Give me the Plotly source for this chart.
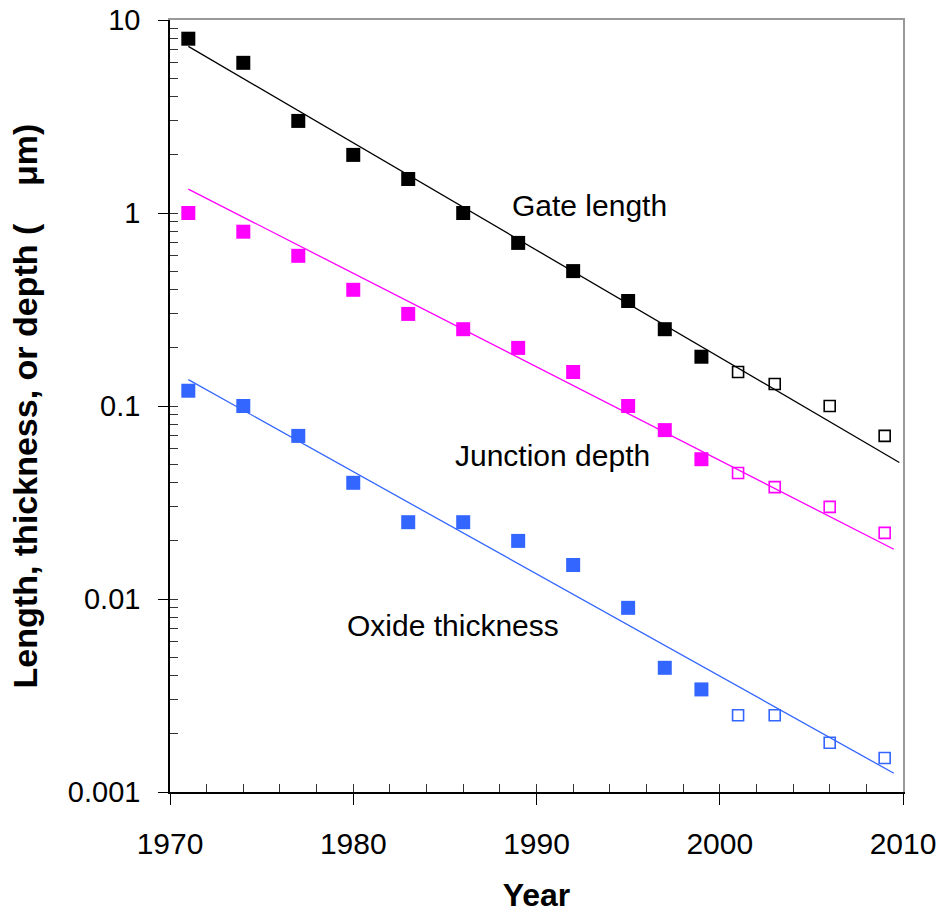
import math
import plotly.graph_objects as go

# ---- data ----
years_meas = [1971, 1974, 1977, 1980, 1983, 1986, 1989, 1992, 1995, 1997, 1999]
years_proj = [2001, 2003, 2006, 2009]

gate_meas = [8.0, 6.0, 3.0, 2.0, 1.5, 1.0, 0.7, 0.5, 0.35, 0.25, 0.18]
gate_proj = [0.15, 0.13, 0.10, 0.07]

junc_meas = [1.0, 0.8, 0.6, 0.4, 0.3, 0.25, 0.2, 0.15, 0.1, 0.075, 0.053]
junc_proj = [0.045, 0.038, 0.030, 0.022]

oxide_meas = [0.12, 0.10, 0.07, 0.04, 0.025, 0.025, 0.02, 0.015, 0.009, 0.0044, 0.0034]
oxide_proj = [0.0025, 0.0025, 0.0018, 0.0015]

# trend-line end points (year, value)
gate_trend_x = [1971, 2009.8]
gate_trend_y = [7.3, 0.051]
junc_trend_x = [1971, 2009.5]
junc_trend_y = [1.33, 0.0181]
oxide_trend_x = [1971, 2009.5]
oxide_trend_y = [0.137, 0.00125]

series_names = ["Gate length", "Junction depth", "Oxide thickness"]
series_colors = ["#000000", "#FF00FF", "#3366FF"]
label_x = [1992.9, 1990.85, 1985.45]
label_y = [1.09, 0.0557, 0.00733]

x_ticks = [1970, 1980, 1990, 2000, 2010]
x_minor = list(range(1970, 2011, 2))
y_ticks = [10, 1, 0.1, 0.01, 0.001]
y_tick_text = ["10", "1", "0.1", "0.01", "0.001"]
y_minor = [k * d for d in [0.001, 0.01, 0.1, 1] for k in range(1, 10)] + [10]

FONT = "Liberation Sans, Arial, sans-serif"

fig = go.Figure()

sets = [
    (gate_meas, gate_proj, gate_trend_x, gate_trend_y),
    (junc_meas, junc_proj, junc_trend_x, junc_trend_y),
    (oxide_meas, oxide_proj, oxide_trend_x, oxide_trend_y),
]
for (meas, proj, tx, ty), name, col in zip(sets, series_names, series_colors):
    fig.add_trace(go.Scatter(x=tx, y=ty, mode="lines",
                             line=dict(color=col, width=1.3),
                             showlegend=False, hoverinfo="skip"))
    fig.add_trace(go.Scatter(x=years_meas, y=meas, mode="markers", name=name,
                             marker=dict(symbol="square", size=14, color=col,
                                         line=dict(width=0)),
                             showlegend=False))
    fig.add_trace(go.Scatter(x=years_proj, y=proj, mode="markers", name=name + " (projected)",
                             marker=dict(symbol="square-open", size=11, color=col,
                                         line=dict(width=1.6, color=col)),
                             showlegend=False))

# invisible traces so the overlay axes (grey frame, inner ticks) are drawn
fig.add_trace(go.Scatter(x=[1990], y=[0.1], xaxis="x2", yaxis="y2", mode="markers",
                         marker=dict(opacity=0), showlegend=False, hoverinfo="skip"))
fig.add_trace(go.Scatter(x=[1990], y=[0.1], xaxis="x3", yaxis="y3", mode="markers",
                         marker=dict(opacity=0), showlegend=False, hoverinfo="skip"))

for name, lx, ly in zip(series_names, label_x, label_y):
    fig.add_annotation(x=lx, y=math.log10(ly), xref="x", yref="y", text=name,
                       showarrow=False, font=dict(family=FONT, size=30, color="#000000"),
                       xanchor="center", yanchor="middle")

NB = "\u00a0"
fig.update_layout(
    width=941, height=916,
    margin=dict(l=170, r=38, t=20, b=124),
    paper_bgcolor="white", plot_bgcolor="white",
    font=dict(family=FONT, size=29, color="#000000"),
    xaxis=dict(
        range=[1970, 2010], tickvals=x_ticks, ticks="outside", ticklen=11,
        tickwidth=1.3, tickcolor="#000000", automargin=False,
        showline=True, linecolor="#000000", linewidth=1.5,
        showgrid=False, zeroline=False,
        tickfont=dict(size=30), ticklabelstandoff=13,
        title=dict(text="<b>Year</b>", font=dict(size=32), standoff=25),
    ),
    yaxis=dict(
        type="log", range=[-3, 1], tickvals=y_ticks, ticktext=y_tick_text,
        ticks="outside", ticklen=10, tickwidth=1.3, tickcolor="#000000",
        automargin=False,
        showline=True, linecolor="#000000", linewidth=1.5,
        showgrid=False, zeroline=False,
        tickfont=dict(size=29), ticklabelstandoff=12,
        title=dict(text="<b>Length, thickness, or depth (" + NB * 4 + "\u03bcm)</b>",
                   font=dict(size=34), standoff=20),
    ),
    xaxis2=dict(
        range=[1970, 2010], overlaying="x", side="top", anchor="y2", automargin=False,
        showline=True, linecolor="#999999", linewidth=2,
        ticks="", showticklabels=False, showgrid=False, zeroline=False,
    ),
    yaxis2=dict(
        type="log", range=[-3, 1], overlaying="y", side="right", anchor="x2",
        automargin=False,
        showline=True, linecolor="#999999", linewidth=2,
        ticks="", showticklabels=False, showgrid=False, zeroline=False,
    ),
    xaxis3=dict(
        range=[1970, 2010], overlaying="x", side="bottom", anchor="y3", automargin=False,
        tickvals=x_minor, ticks="inside", ticklen=8, tickwidth=1.2, tickcolor="#333333",
        showline=False, showticklabels=False, showgrid=False, zeroline=False,
    ),
    yaxis3=dict(
        type="log", range=[-3, 1], overlaying="y", side="left", anchor="x3",
        automargin=False,
        tickvals=y_minor, ticks="inside", ticklen=8, tickwidth=1.2, tickcolor="#333333",
        showline=False, showticklabels=False, showgrid=False, zeroline=False,
    ),
)

fig.write_html("out.html")
